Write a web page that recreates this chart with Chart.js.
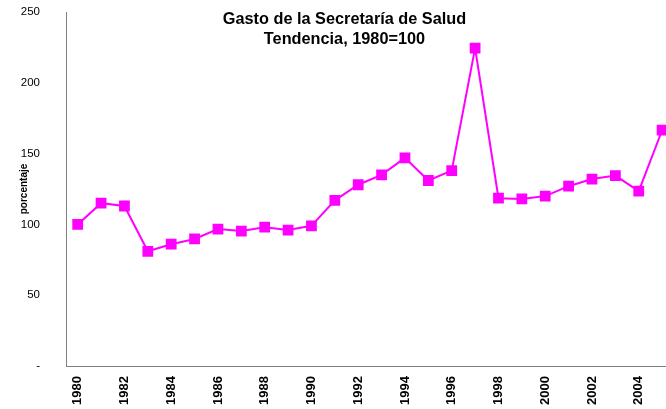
<!DOCTYPE html>
<html>
<head>
<meta charset="utf-8">
<script src="https://cdn.jsdelivr.net/npm/chart.js@4"></script>
<style>
html,body{margin:0;padding:0;background:#fff;overflow:hidden;width:666px;height:409px;}
#wrap{position:relative;width:682px;height:409px;}
#title{position:absolute;left:0;top:8px;width:689px;text-align:center;font:bold 16.3px "Liberation Sans",Arial,sans-serif;line-height:20px;color:#000;pointer-events:none;}
canvas{display:block;}
</style>
</head>
<body>
<div id="wrap">
<canvas id="c" width="682" height="409"></canvas>
<div id="title">Gasto de la Secretaría de Salud<br>Tendencia, 1980=100</div>
</div>
<script>
const years = ["1980","1981","1982","1983","1984","1985","1986","1987","1988","1989","1990","1991","1992","1993","1994","1995","1996","1997","1998","1999","2000","2001","2002","2003","2004","2005"];
const gasto = [100,115,113,81,86,89.7,96.7,95.3,98,96,99,117,128,135,147,131,138,224.5,118.5,118,120,127,132,134.5,123.5,166.5];
const yTicks = [0,50,100,150,200,250];
const yTitle = "porcentaje";

const font = "'Liberation Sans', Arial, sans-serif";
const chart = new Chart(document.getElementById('c'), {
  type: 'line',
  data: {
    labels: years,
    datasets: [{
      data: gasto,
      borderColor: '#FF00FF',
      backgroundColor: '#FF00FF',
      borderWidth: 2,
      pointStyle: 'rect',
      pointRadius: 6.2,
      pointHoverRadius: 6.2,
      tension: 0,
      fill: false,
      clip: false
    }]
  },
  options: {
    responsive: false,
    animation: false,
    devicePixelRatio: 1,
    layout: {padding: {top: 12, right: 0, left: 0, bottom: 0}},
    plugins: {legend: {display: false}, title: {display: false}, tooltip: {enabled: false}},
    scales: {
      x: {
        type: 'category',
        offset: true,
        grid: {display: false, drawTicks: false},
        border: {display: true, color: '#808080', width: 1},
        ticks: {
          autoSkip: false,
          maxRotation: 90, minRotation: 90,
          padding: 10,
          color: '#000',
          font: {family: font, size: 13, weight: 'bold'},
          callback: function(v, i) { const y = years[i]; return (parseInt(y) % 2 === 0) ? y : ''; }
        },
        afterFit: s => { s.height = 43; s.paddingLeft = 0; s.paddingRight = 0; s.paddingTop = 0; s.paddingBottom = 0; }
      },
      y: {
        min: 0, max: 250,
        afterBuildTicks: s => { s.ticks = yTicks.map(v => ({value: v})); },
        grid: {display: false, drawTicks: false},
        border: {display: true, color: '#808080', width: 1},
        ticks: {
          padding: 26,
          color: '#000',
          font: {family: font, size: 11.5},
          callback: v => v === 0 ? '-' : v
        },
        title: {display: true, text: yTitle, color: '#000', font: {family: font, size: 10, weight: 'bold'}, padding: {top: 18, bottom: 0}},
        afterFit: s => { s.width = 66; s.paddingTop = 0; s.paddingBottom = 0; s.paddingLeft = 0; s.paddingRight = 0; }
      }
    }
  }
});
</script>
</body>
</html>
